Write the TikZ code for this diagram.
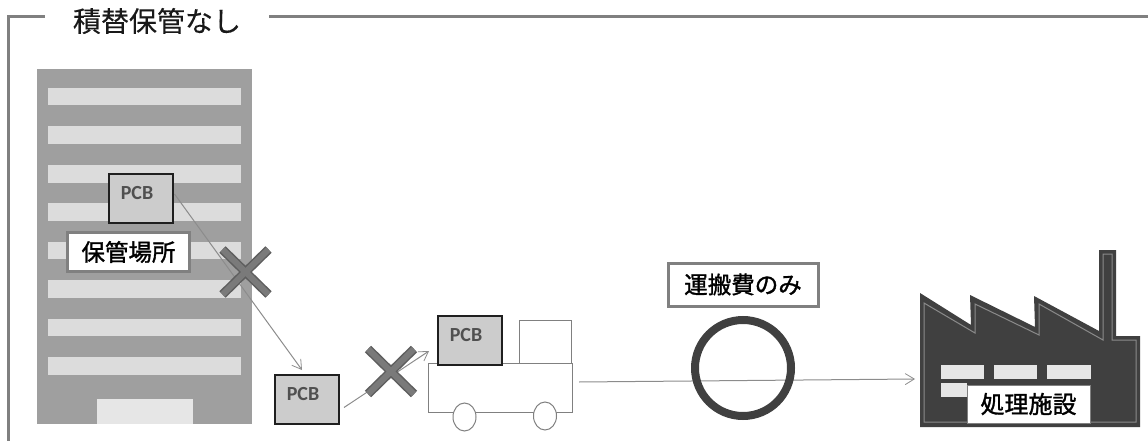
\documentclass[tikz,border=0pt]{standalone}
\usepackage{fontspec}
\setmainfont{Noto Sans CJK JP}
\newfontfamily\midjp[FakeBold=1.4]{Noto Sans CJK JP}
\newfontfamily\titlejp[FakeBold=0.25]{Noto Sans CJK JP}
\newfontfamily\latinf{Carlito}
\usetikzlibrary{arrows.meta}
\definecolor{frameg}{HTML}{808080}
\definecolor{bldg}{HTML}{9F9F9F}
\definecolor{stripeg}{HTML}{DCDCDC}
\definecolor{doorg}{HTML}{E6E6E6}
\definecolor{pcbg}{HTML}{CCCCCC}
\definecolor{pcbt}{HTML}{505050}
\definecolor{darkg}{HTML}{404040}
\definecolor{arrowg}{HTML}{8C8C8C}
\definecolor{crossg}{HTML}{5E5E5E}
\definecolor{crossi}{HTML}{7A7A7A}
\definecolor{lineg}{HTML}{808080}
\definecolor{innerg}{HTML}{8A8A8A}
\tikzset{
  pcbbox/.style={draw=black!88,line width=2pt,fill=pcbg,minimum width=64pt,minimum height=49pt,inner sep=0pt,outer sep=0pt},
  pcbtext/.style={font=\latinf\bfseries\fontsize{20}{20}\selectfont,text=pcbt,inner sep=0pt},
  labelbox/.style={draw=frameg,line width=3pt,fill=white,inner sep=0pt,outer sep=0pt,font=\midjp\fontsize{23.5}{24}\selectfont,text=black},
  flow/.style={draw=arrowg,line width=1pt,-{Straight Barb[length=9pt,width=11pt,line width=0.8pt]}},
  crossout/.style={line width=9pt,draw=crossg},
  crossin/.style={line width=6pt,draw=crossi},
  frameline/.style={draw=frameg,line width=3pt},
  truckpart/.style={draw=lineg,line width=1pt,fill=white},
}
\begin{document}
\begin{tikzpicture}[x=1pt,y=-1pt]
\useasboundingbox (0,0) rectangle (1148,441);
% frame and title
\node[inner sep=0pt,font=\titlejp\fontsize{28}{28}\selectfont,text=black!90] (title) at (157,21) {積替保管なし};
\coordinate (fa) at (8,441);
\coordinate (fb) at (8,16.5);
\coordinate (fc) at (45,16.5);
\coordinate (fd) at (269,16.5);
\coordinate (fe) at (1148,16.5);
\draw[frameline] (fa) -- (fb) -- (fc);
\draw[frameline] (fd) -- (fe);
% building
\fill[bldg] (37,69) rectangle (252,424);
\foreach \y in {88,126.5,165,203,241.5,280,318.5,357}
  \fill[stripeg] (48,\y) rectangle (241,\y+17.5);
\fill[doorg] (97,399) rectangle (193,424);
% truck
\draw[truckpart] (519,363) -- (519,320) -- (571,320) -- (571,363);
\draw[truckpart] (428.5,363) rectangle (572,412);
\draw[truckpart] (464.5,417) ellipse (11.5pt and 14pt);
\draw[truckpart] (545,416) ellipse (11.5pt and 14pt);
% pcb boxes
\node[pcbbox] (pcba) at (140.5,198.5) {};
\node[pcbtext] (pcbat) at (137,193) {PCB};
\node[pcbbox] (pcbb) at (307,399.5) {};
\node[pcbtext] (pcbbt) at (303,394) {PCB};
\node[pcbbox] (pcbc) at (470,340.5) {};
\node[pcbtext] (pcbct) at (466,335) {PCB};
% arrows
\coordinate (aend) at (302,370);
\coordinate (bend) at (429,351);
\coordinate (cstart) at (579,382);
\coordinate (fin) at (915,379);
\draw[flow] ([xshift=2pt,yshift=4.5pt]pcba.east) -- (aend);
\draw[flow] ([xshift=5pt,yshift=-8pt]pcbb.east) -- (bend);
% crosses
\foreach \cx/\cy in {245.5/272, 391/371.5}{
  \draw[crossout] (\cx-23,\cy-22.5) -- (\cx+23,\cy+22.5);
  \draw[crossout] (\cx+23,\cy-22.5) -- (\cx-23,\cy+22.5);
  \draw[crossin] (\cx-23,\cy-22.5) -- (\cx+23,\cy+22.5);
  \draw[crossin] (\cx+23,\cy-22.5) -- (\cx-23,\cy+22.5);
}
% label storage
\node[labelbox,minimum width=122pt,minimum height=39pt] (store) at (128.5,252) {保管場所};
% circle
\draw[flow] (cstart) -- (fin);
\draw[draw=darkg,line width=8pt] (743,368) circle (48pt);
\node[labelbox,minimum width=150pt,minimum height=43pt] (cost) at (743,284.5) {運搬費のみ};
% factory
\fill[darkg] (920,293) -- (971,325) -- (970,295) -- (1035,327) -- (1034,296) -- (1099,331) -- (1099,250) -- (1116,250) -- (1116,336) -- (1140,336) -- (1140,427) -- (920,427) -- cycle;
\draw[draw=innerg,line width=1pt] (924,303) -- (975,333) -- (975,304) -- (1039,335) -- (1039,304) -- (1103,340) -- (1103,254) -- (1112,254) -- (1112,340) -- (1136,340) -- (1136,422) -- (924,422) -- cycle;
\fill[doorg] (941,365) rectangle (984,379);
\fill[doorg] (994,365) rectangle (1037,379);
\fill[doorg] (1047,365) rectangle (1091,379);
\fill[doorg] (941,383) rectangle (967,397);
\node[draw=lineg,line width=1pt,fill=white,inner sep=0pt,outer sep=0pt,font=\midjp\fontsize{24}{24}\selectfont,minimum width=123pt,minimum height=38pt] (plant) at (1028.5,404) {処理施設};
\end{tikzpicture}
\end{document}
